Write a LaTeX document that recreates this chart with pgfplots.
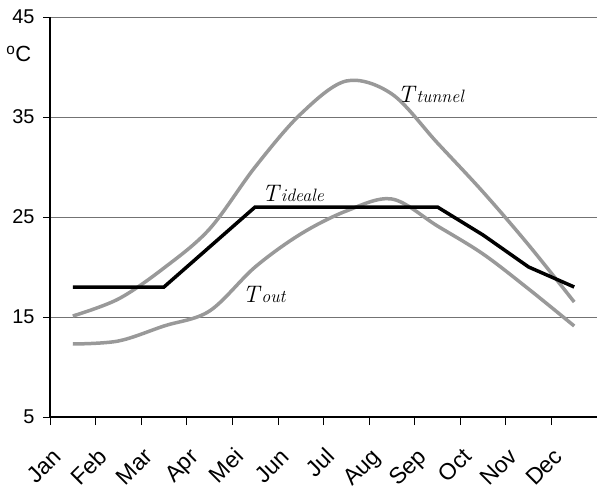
\documentclass[border=0pt]{standalone}
\usepackage{pgfplots}
\pgfplotsset{compat=1.18}
\usepackage{fontspec}
\setmainfont{Liberation Sans}
\newfontfamily\lmfont{Latin Modern Roman}

\pgfplotstableread{
x tunnel out ideale
0  15.1 12.3 18
1  16.8 12.6 18
2  19.9 14.1 18
3  23.8 15.6 22
4  30.0 20.0 26
5  35.3 23.3 26
6  38.6 25.6 26
7  37.3 26.8 26
8  32.4 24.1 26
9  27.5 21.3 23.2
10 22.2 17.8 20.0
11 16.5 14.1 18
}\temps

\begin{document}
\begin{tikzpicture}
\begin{axis}[
  scale only axis,
  width=547bp, height=400bp,
  xmin=-0.5, xmax=11.5,
  ymin=5, ymax=45,
  axis lines*=left,
  axis line style={line width=1.4bp},
  clip=false,
  xtick={0,...,11},
  xticklabels={Jan,Feb,Mar,Apr,Mei,Jun,Jul,Aug,Sep,Oct,Nov,Dec},
  minor xtick={-0.5,0.5,...,11.5},
  ytick={5,15,...,45},
  tick align=outside,
  major tick length=7bp,
  minor tick length=8bp,
  x tick style={draw=none},
  minor x tick style={draw=black, line width=0.8bp},
  y tick style={line width=0.8bp, black},
  ymajorgrids,
  major grid style={black!55, line width=0.9bp},
  /pgf/number format/assume math mode=true,
  yticklabel style={font=\fontsize{20}{22}\selectfont, xshift=-5bp},
  xticklabel style={font=\fontsize{23}{25}\selectfont, inner sep=0pt,
    xshift=-10bp, yshift=-34bp, rotate=45, anchor=base east},
]
\addplot[black!40, line width=3.5bp, smooth, tension=0.55] table[x=x, y=tunnel] {\temps};
\addplot[black!40, line width=3.5bp, smooth, tension=0.55] table[x=x, y=out] {\temps};
\addplot[black, line width=3.5bp] table[x=x, y=ideale] {\temps};

\node[anchor=base west, inner sep=0pt] at (axis cs:7.12,36.5)
  {\lmfont\fontsize{24}{26}\selectfont\itshape T\hspace{2bp}\fontsize{18}{20}\selectfont tunnel};
\node[anchor=base west, inner sep=0pt] at (axis cs:4.15,26.6)
  {\lmfont\fontsize{24}{26}\selectfont\itshape T\hspace{2bp}\fontsize{18}{20}\selectfont ideale};
\node[anchor=base west, inner sep=0pt] at (axis cs:3.72,16.5)
  {\lmfont\fontsize{24}{26}\selectfont\itshape T\hspace{2bp}\fontsize{18}{20}\selectfont out};
\node[anchor=west, inner sep=0pt, font=\fontsize{22}{24}\selectfont] at (axis cs:-1.46,41.3) {\textsuperscript{o}C};

\coordinate (sw) at (rel axis cs:0,0);
\coordinate (ne) at (rel axis cs:1,1);
\end{axis}
\pgfresetboundingbox
\path ([shift={(-50bp,-73bp)}]sw) rectangle ([shift={(0bp,17bp)}]ne);
\end{tikzpicture}
\end{document}
